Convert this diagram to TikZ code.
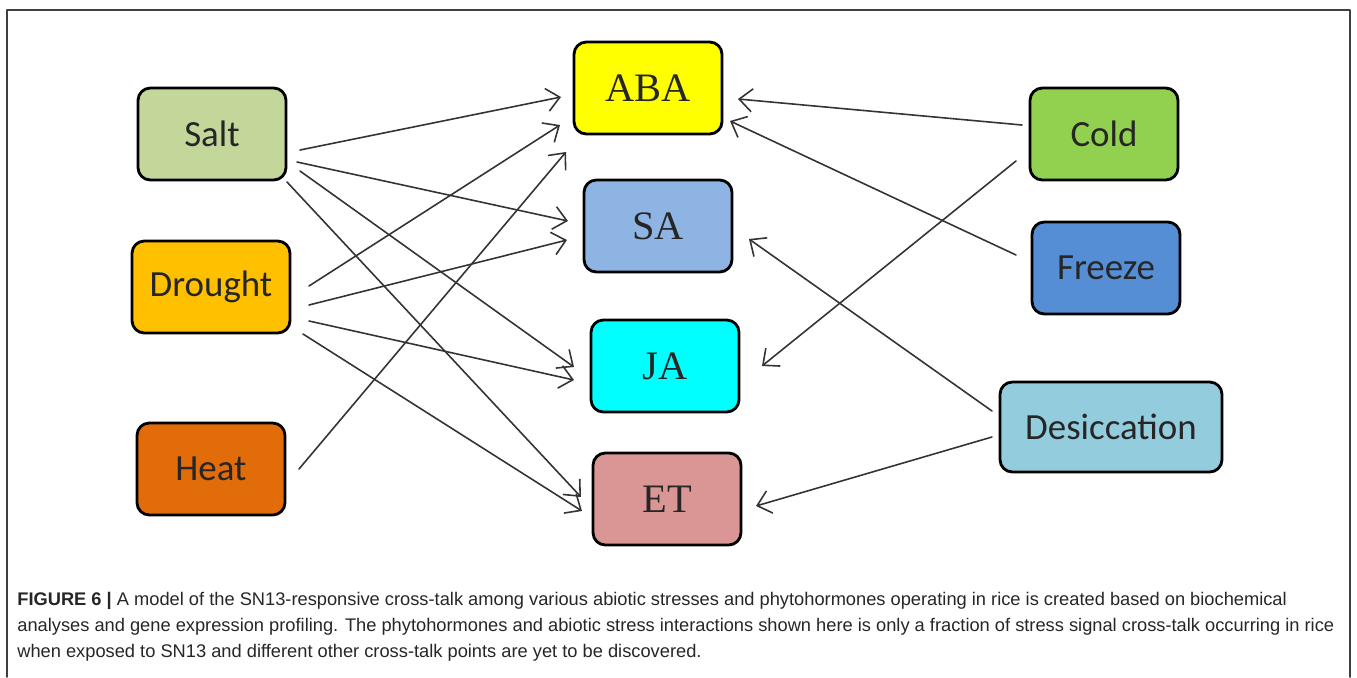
\documentclass[tikz,border=0pt]{standalone}
\usepackage{fontspec}
\setmainfont{Liberation Serif}
\setsansfont{Liberation Sans}
\newfontfamily\labelfont{Carlito}
\usetikzlibrary{arrows.meta}
\definecolor{saltcol}{HTML}{C4D79B}
\definecolor{droughtcol}{HTML}{FFC000}
\definecolor{heatcol}{HTML}{E26B0A}
\definecolor{abacol}{HTML}{FFFF00}
\definecolor{sacol}{HTML}{8EB4E3}
\definecolor{jacol}{HTML}{00FFFF}
\definecolor{etcol}{HTML}{D99694}
\definecolor{coldcol}{HTML}{92D050}
\definecolor{freezecol}{HTML}{558ED5}
\definecolor{desiccol}{HTML}{93CDDD}
\begin{document}
\begin{tikzpicture}[x=0.02cm, y=-0.02cm, line cap=round, line join=round,
	>={Straight Barb[length=2.6mm,width=4.6mm]},
	stress/.style={draw=black, line width=1.6pt, rounded corners=7pt, minimum width=2.96cm, minimum height=1.84cm, text=black!85, font=\labelfont\fontsize{21}{24}\selectfont},
	hormone/.style={stress, font=\rmfamily\fontsize{23}{26}\selectfont},
	link/.style={->, line width=0.9pt, draw=black!80}]
	\useasboundingbox (0,0) rectangle (1357,677);
	\draw[line width=1pt, black!75] (7,677)--(7,10)--(1350,10)--(1350,677);
	\path (212,134) node[stress, fill=saltcol] (salt) {Salt}
		(211,287) node[stress, fill=droughtcol, minimum width=3.16cm] (drought) {Drought}
		(211,469) node[stress, fill=heatcol] (heat) {Heat}
		(648,88) node[hormone, fill=abacol] (aba) {ABA}
		(658,226) node[hormone, fill=sacol] (sa) {SA}
		(665,366) node[hormone, fill=jacol] (ja) {JA}
		(667,499) node[hormone, fill=etcol] (et) {ET}
		(1104,134) node[stress, fill=coldcol] (cold) {Cold}
		(1106,268) node[stress, fill=freezecol] (freeze) {Freeze}
		(1111,427) node[stress, fill=desiccol, minimum width=4.44cm, minimum height=1.8cm] (desic) {Desiccation};
	\foreach \s/\sx/\sy/\t/\tx/\ty in {salt/88/16/aba/-87/9, salt/85/28/sa/-90/-5, salt/88/37/ja/-91/1, salt/75/48/et/-86/-2,
		drought/98/-1/aba/-88/37, drought/98/18/sa/-91/14, drought/98/34/ja/-91/14, drought/92/47/et/-85/12,
		heat/88/0/aba/-82/64, cold/-82/-9/aba/90/11, cold/-88/27/ja/97/0, freeze/-90/-13/aba/82/33,
		desic/-119/-16/sa/91/13, desic/-119/10/et/89/7}
		\draw[link] ([shift={(\sx,\sy)}]\s.center) -- ([shift={(\tx,\ty)}]\t.center);
	\node[anchor=north west, align=left, inner sep=0pt, text=black!85, font=\sffamily\fontsize{10.4}{14.8}\selectfont] (caption) at (17,592)
		{\textbf{FIGURE 6 |} A model of the SN13-responsive cross-talk among various abiotic stresses and phytohormones operating in rice is created based on biochemical\\
		analyses and gene expression profiling. The phytohormones and abiotic stress interactions shown here is only a fraction of stress signal cross-talk occurring in rice\\
		when exposed to SN13 and different other cross-talk points are yet to be discovered.};
\end{tikzpicture}
\end{document}
